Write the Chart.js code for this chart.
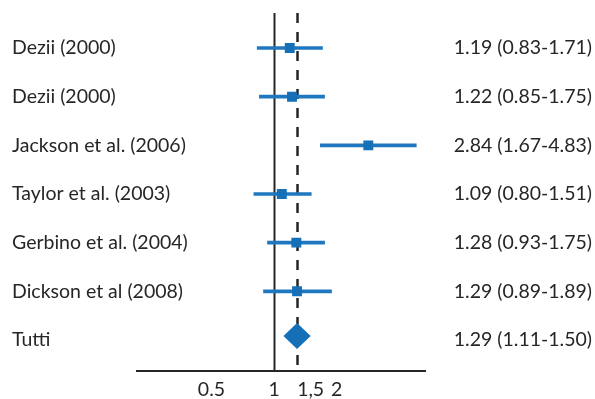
<!DOCTYPE html>
<html>
<head>
<meta charset="utf-8">
<script src="https://cdn.jsdelivr.net/npm/chart.js@4/dist/chart.umd.min.js"></script>
<style>
  html, body { margin: 0; padding: 0; background: #ffffff; }
  canvas { display: block; }
</style>
</head>
<body>
<canvas id="forest" width="595" height="399"></canvas>
<script>
// Studies (the last row is the pooled estimate)
const studies = ['Dezii (2000)', 'Dezii (2000)', 'Jackson et al. (2006)', 'Taylor et al. (2003)',
                 'Gerbino et al. (2004)', 'Dickson et al (2008)', 'Tutti'];
const estimates = [1.19, 1.22, 2.84, 1.09, 1.28, 1.29, 1.29];
const lowerCI   = [0.83, 0.85, 1.67, 0.80, 0.93, 0.89, 1.11];
const upperCI   = [1.71, 1.75, 4.83, 1.51, 1.75, 1.89, 1.50];

// X axis ticks
const tickValues = [0.5, 1, 1.5, 2];
const tickLabels = ['0.5', '1', '1,5', '2'];
const noEffect = 1;

const pooled = studies.length - 1;
const ciText = estimates.map((e, i) =>
  `${e.toFixed(2)} (${lowerCI[i].toFixed(2)}-${upperCI[i].toFixed(2)})`);

const BLUE = '#1570b8';
const INK = '#262626';
const FONT = { family: 'Lato', size: 19.5 };

const rowMin = -0.72, rowMax = 6.63;
const rowTicks = scale => { scale.ticks = studies.map((_, i) => ({ value: i })); };
const rowFit = width => scale => {
  scale.width = width;
  scale.paddingTop = 0;
  scale.paddingBottom = 0;
};

// Reference lines: no effect (solid) and pooled estimate (dashed)
const refLines = {
  id: 'refLines',
  beforeDatasetsDraw(chart) {
    const { ctx, chartArea, scales } = chart;
    const draw = (value, dash, width) => {
      const x = Math.round(scales.x.getPixelForValue(value)) + 0.5;
      ctx.save();
      ctx.strokeStyle = INK;
      ctx.lineWidth = width;
      ctx.setLineDash(dash);
      ctx.beginPath();
      ctx.moveTo(x, chartArea.top);
      ctx.lineTo(x, chartArea.bottom);
      ctx.stroke();
      ctx.restore();
    };
    draw(noEffect, [], 2);
    draw(estimates[pooled], [10, 9], 2.5);
  }
};

// Pooled estimate diamond spanning its confidence interval
const pooledDiamond = {
  id: 'pooledDiamond',
  afterDatasetsDraw(chart) {
    const { ctx, scales } = chart;
    const xl = scales.x.getPixelForValue(lowerCI[pooled]);
    const xm = scales.x.getPixelForValue(estimates[pooled]);
    const xr = scales.x.getPixelForValue(upperCI[pooled]);
    const y = scales.y.getPixelForValue(pooled) - 4;
    const h = 13;
    ctx.save();
    ctx.fillStyle = BLUE;
    ctx.beginPath();
    ctx.moveTo(xl, y);
    ctx.lineTo(xm, y - h);
    ctx.lineTo(xr, y);
    ctx.lineTo(xm, y + h);
    ctx.closePath();
    ctx.fill();
    ctx.restore();
  }
};

new Chart(document.getElementById('forest'), {
  type: 'bar',
  data: {
    datasets: [
      {
        type: 'scatter',
        label: 'Stima',
        data: estimates.slice(0, pooled).map((e, i) => ({ x: e, y: i })),
        pointStyle: 'rect',
        pointRadius: 7,
        pointHoverRadius: 7,
        backgroundColor: BLUE,
        borderColor: BLUE,
        borderWidth: 0,
        order: 1
      },
      {
        type: 'bar',
        label: 'IC 95%',
        data: lowerCI.slice(0, pooled).map((lo, i) => ({ y: i, x: [lo, upperCI[i]] })),
        backgroundColor: '#1f78bf',
        barThickness: 3,
        borderSkipped: false,
        order: 2
      }
    ]
  },
  options: {
    responsive: false,
    animation: false,
    indexAxis: 'y',
    devicePixelRatio: 1,
    layout: { padding: { left: 12, right: 3, top: 13, bottom: -9 } },
    plugins: { legend: { display: false }, tooltip: { enabled: false } },
    scales: {
      x: {
        type: 'logarithmic',
        position: 'bottom',
        min: 0.2193,
        max: 5.32,
        afterBuildTicks: scale => { scale.ticks = tickValues.map(v => ({ value: v })); },
        grid: { display: false, drawTicks: false },
        border: { display: true, color: INK, width: 2 },
        ticks: {
          autoSkip: false,
          maxRotation: 0,
          padding: 7,
          color: INK,
          font: FONT,
          callback: (v, i) => tickLabels[i]
        }
      },
      y: {
        type: 'linear',
        position: 'left',
        reverse: true,
        offset: false,
        min: rowMin,
        max: rowMax,
        afterBuildTicks: rowTicks,
        afterFit: rowFit(125),
        grid: { display: false, drawTicks: false, offset: false },
        border: { display: false },
        ticks: {
          mirror: true,
          crossAlign: 'near',
          padding: -125,
          color: INK,
          font: FONT,
          callback: v => studies[v]
        }
      },
      y2: {
        type: 'linear',
        position: 'right',
        reverse: true,
        offset: false,
        min: rowMin,
        max: rowMax,
        afterBuildTicks: rowTicks,
        afterFit: rowFit(167),
        grid: { display: false, drawTicks: false, offset: false },
        border: { display: false },
        ticks: {
          crossAlign: 'far',
          padding: 0,
          color: INK,
          font: FONT,
          callback: v => ciText[v]
        }
      }
    }
  },
  plugins: [refLines, pooledDiamond]
});
</script>
</body>
</html>
